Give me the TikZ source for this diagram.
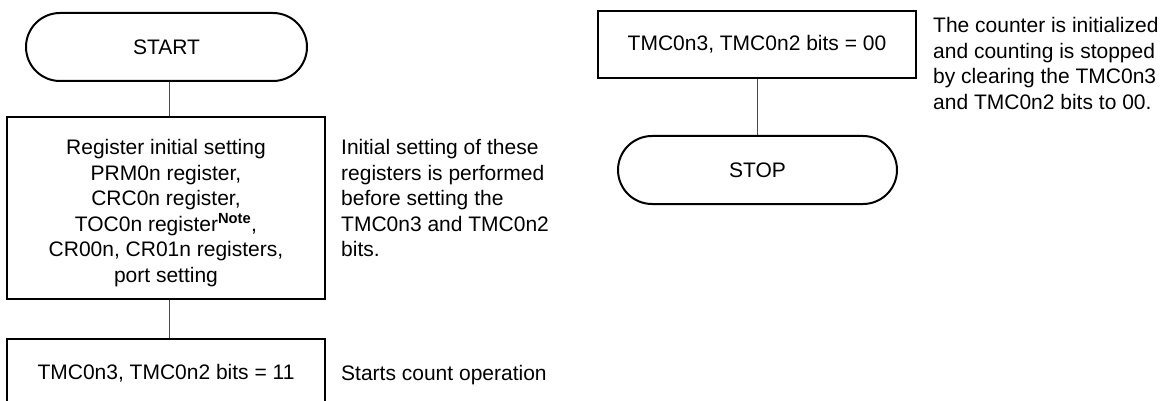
\documentclass[tikz,border=0pt]{standalone}
\usepackage{fontspec}
\setmainfont{Liberation Sans}
\usetikzlibrary{shapes.misc}
\begin{document}
\begin{tikzpicture}[x=1pt,y=-1pt,
  every node/.style={font=\fontsize{21}{25.5}\selectfont},
  box/.style={draw, line width=2pt, rectangle, inner sep=0pt, align=center},
  term/.style={draw, line width=2pt, rounded rectangle, inner sep=0pt, minimum height=68pt},
  link/.style={draw=black!70, line width=1pt},
  note/.style={inner sep=0pt, align=left}]
\useasboundingbox (0,0) rectangle (1162,401);
% left column
\node[term, minimum width=281pt] (start) at (166.5,47) {START};
\node[box, minimum width=318pt, minimum height=182pt] (reg) at (166,208)
  {\rule{0pt}{24.9pt}Register initial setting\\PRM0n register,\\CRC0n register,\\TOC0n register\textsuperscript{\bfseries Note},\\CR00n, CR01n registers,\\port setting};
\node[box, minimum width=318pt, minimum height=68pt] (run) at (166,373) {TMC0n3, TMC0n2 bits = 11};
\draw[link] ([xshift=3pt]start.south) -- ([xshift=3pt]start.south |- reg.north);
\draw[link] ([xshift=3pt]reg.south) -- ([xshift=3pt]reg.south |- run.north);
\node[note, anchor=north west] (n1) at (341,139.2)
  {Initial setting of these\\registers is performed\\before setting the\\TMC0n3 and TMC0n2\\bits.};
\node[note, anchor=base west] (n2) at (341,380.5) {Starts count operation};
% right column
\node[box, minimum width=318pt, minimum height=67pt] (clr) at (757,44.5) {TMC0n3, TMC0n2 bits = 00};
\node[term, minimum width=279pt] (stop) at (757.5,170) {STOP};
\draw[link] (clr.south) -- (clr.south |- stop.north);
\node[note, anchor=north west] (n3) at (933,17.2)
  {The counter is initialized\\and counting is stopped\\by clearing the TMC0n3\\and TMC0n2 bits to 00.};
\end{tikzpicture}
\end{document}
